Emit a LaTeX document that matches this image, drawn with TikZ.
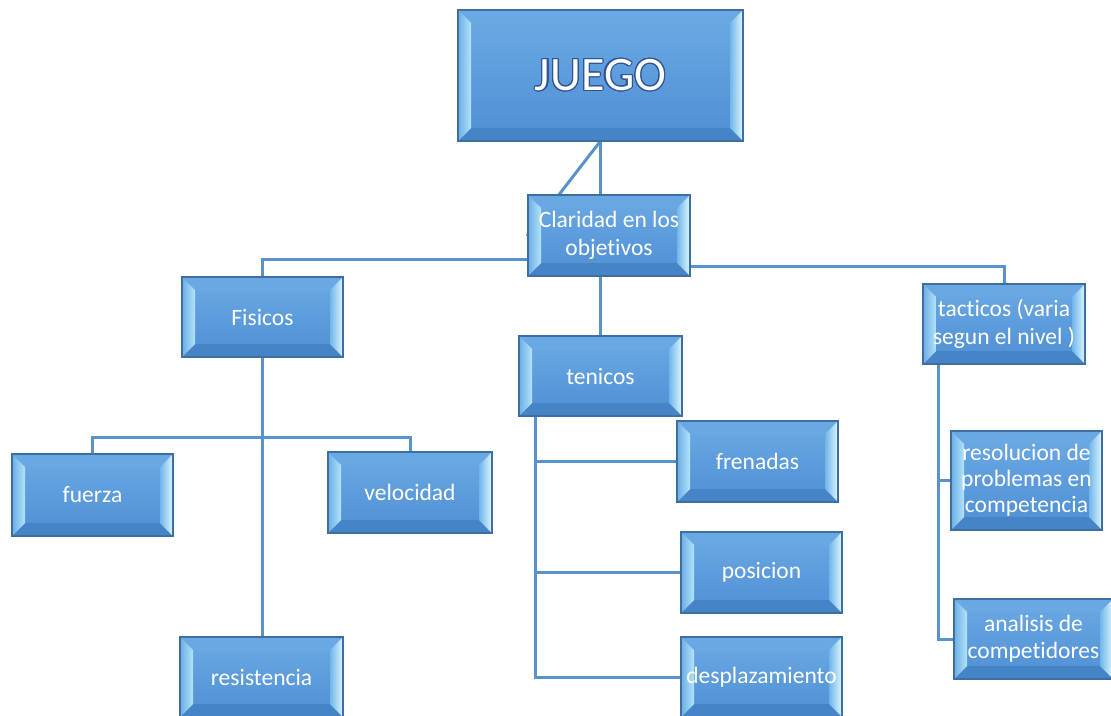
\documentclass[tikz,border=0pt]{standalone}
\usepackage{fontspec}
\setmainfont{Carlito}[Ligatures={NoCommon}]
\usepackage[copies]{contour}
\usetikzlibrary{backgrounds,calc}

\definecolor{linkblue}{RGB}{88,146,204}
\definecolor{edgeblue}{RGB}{62,111,164}
\definecolor{facetop}{RGB}{108,170,228}
\definecolor{facebot}{RGB}{78,143,212}
\definecolor{bevtop}{RGB}{106,168,228}
\definecolor{bevbot}{RGB}{70,132,200}
\definecolor{leftout}{RGB}{108,174,230}
\definecolor{leftin}{RGB}{178,228,249}
\definecolor{rightin}{RGB}{112,182,234}
\definecolor{rightout}{RGB}{222,247,254}
\definecolor{glowblue}{RGB}{47,85,151}

\tikzset{
  x=1pt, y=-1pt,
  conn/.style={draw=linkblue, line width=3pt},
  bevelbox/.style={
    rectangle, draw=edgeblue, line width=1.4pt,
    top color=facetop, bottom color=facebot,
    inner sep=0pt, outer sep=0pt, text=white, align=center,
    font=\fontsize{23.5}{27.5}\selectfont,
    path picture={
      \def\bv{13pt}
      \path (path picture bounding box.north west) coordinate (pNW)
            (path picture bounding box.north east) coordinate (pNE)
            (path picture bounding box.south west) coordinate (pSW)
            (path picture bounding box.south east) coordinate (pSE);
      \fill[bevtop] (pNW) -- (pNE) -- ([xshift=-\bv,yshift=-\bv]pNE)
                    -- ([xshift=\bv,yshift=-\bv]pNW) -- cycle;
      \fill[bevbot] (pSW) -- (pSE) -- ([xshift=-\bv,yshift=\bv]pSE)
                    -- ([xshift=\bv,yshift=\bv]pSW) -- cycle;
      \shade[left color=leftout, right color=leftin]
            (pNW) -- ([xshift=\bv,yshift=-\bv]pNW)
            -- ([xshift=\bv,yshift=\bv]pSW) -- (pSW) -- cycle;
      \shade[left color=rightin, right color=rightout]
            (pNE) -- ([xshift=-\bv,yshift=-\bv]pNE)
            -- ([xshift=-\bv,yshift=\bv]pSE) -- (pSE) -- cycle;
    }
  }
}

\begin{document}
\begin{tikzpicture}
  \useasboundingbox (0,0) rectangle (1111,715);
  \clip (0,0) rectangle (1111,715);

  % boxes
  \node[bevelbox, minimum width=285pt, minimum height=131pt,
        font=\fontsize{48}{50}\selectfont] (juego) at (600.5,75.5)
        {\contourlength{1.1pt}\contour{glowblue}{JUEGO}};
  \node[bevelbox, minimum width=162pt, minimum height=81pt] (clar) at (609,235.5)
        {Claridad en los\\objetivos};

  \node[bevelbox, minimum width=161pt, minimum height=80pt] (fis) at (262.5,317) {Fisicos};
  \node[bevelbox, minimum width=161pt, minimum height=82pt] (fue) at (92.5,495) {fuerza};
  \node[bevelbox, minimum width=164pt, minimum height=81pt] (vel) at (410,492.5) {velocidad};
  \node[bevelbox, minimum width=163pt, minimum height=80pt] (resi) at (261.5,677) {resistencia};

  \node[bevelbox, minimum width=163pt, minimum height=80pt] (ten) at (600.5,376) {tenicos};
  \node[bevelbox, minimum width=161pt, minimum height=81pt] (fre) at (757.5,461.5) {frenadas};
  \node[bevelbox, minimum width=161pt, minimum height=81pt] (pos) at (761.5,572.5) {posicion};
  \node[bevelbox, minimum width=161pt, minimum height=80pt] (des) at (761.5,677) {desplazamiento};

  \node[bevelbox, minimum width=162pt, minimum height=80pt] (tac) at (1004,324)
        {tacticos (varia\\segun el nivel )};
  \node[bevelbox, minimum width=151pt, minimum height=99pt,
        font=\fontsize{23.5}{26}\selectfont] (resol) at (1026.5,480.5)
        {resolucion de\\problemas en\\competencia};
  \node[bevelbox, minimum width=159pt, minimum height=80pt,
        font=\fontsize{23.5}{27}\selectfont] (ana) at (1033.5,639)
        {analisis de\\competidores};

  % junction points of the branch lines
  \coordinate (fjoin) at (262.5,437);
  \coordinate (tspine) at ([xshift=-65.5pt]ten.south);
  \coordinate (cspine) at ([xshift=-66pt]tac.south);
  \coordinate (slant) at (527,236);

  \begin{pgfonlayer}{background}
    \fill[white] (0,0) rectangle (1111,715);
    % top level
    \draw[conn] (juego.south) -- (juego.south |- clar.north);
    \draw[conn] (juego.south) -- (slant);
    \draw[conn] (fis.north) |- ([yshift=-23.5pt]clar.west);
    \draw[conn] (tac.north) |- ([yshift=-30.5pt]clar.east);
    \draw[conn] (ten.north) -- (ten.north |- clar.south);
    % physical branch
    \draw[conn] (fis.south) -- (fis.south |- resi.north);
    \draw[conn] (fue.north) |- (fjoin) -| (vel.north);
    % technical branch
    \draw[conn] (tspine) |- (des.west);
    \draw[conn] (fre.west) -- (fre.west -| tspine);
    \draw[conn] (pos.west) -- (pos.west -| tspine);
    % tactical branch
    \draw[conn] (cspine) |- (ana.west);
    \draw[conn] (resol.west) -- (resol.west -| cspine);
  \end{pgfonlayer}
\end{tikzpicture}
\end{document}
